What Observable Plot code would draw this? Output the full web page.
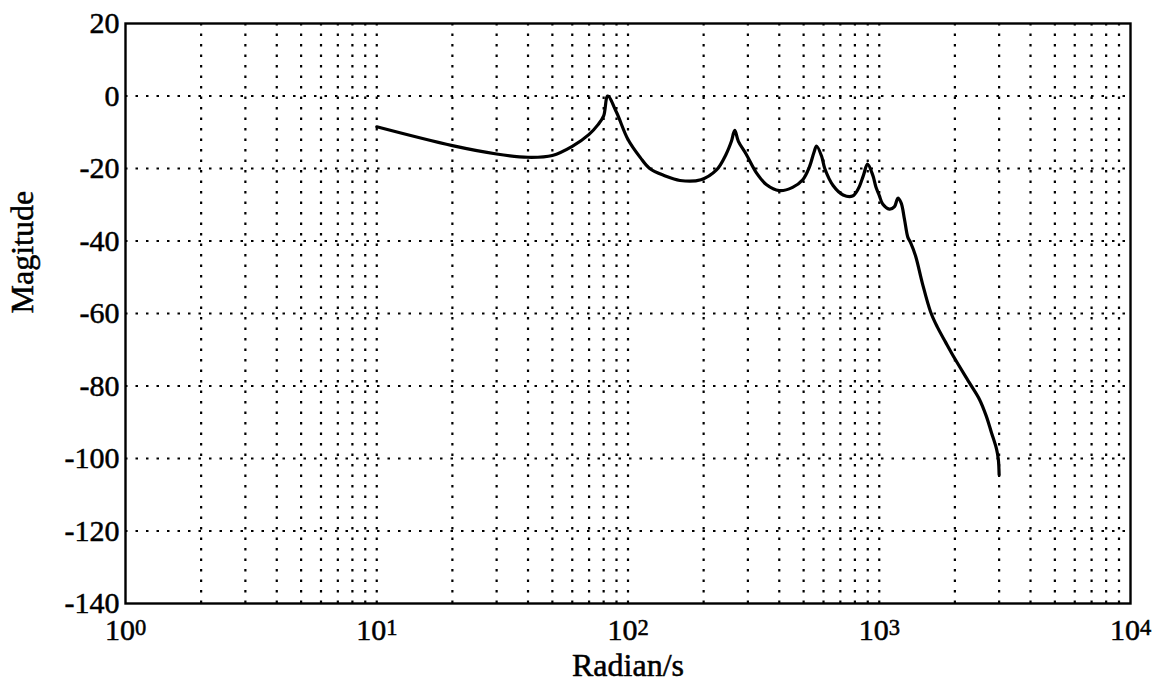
<!DOCTYPE html>
<html>
<head>
<meta charset="utf-8">
<script src="https://cdn.jsdelivr.net/npm/d3@7"></script>
<script src="https://cdn.jsdelivr.net/npm/@observablehq/plot@0.6"></script>
<style>
  html, body { margin: 0; padding: 0; background: #fff; }
  #chart svg { display: block; }
  #chart svg text { stroke: black; stroke-width: 0.5px; }
</style>
</head>
<body>
<div id="chart"></div>
<script>
// Frequency (rad/s) and magnitude (dB)
const freq = [10, 20, 30, 40, 50, 60, 70, 76, 80, 83, 90, 100, 112, 122, 140, 161, 195, 225, 246, 258, 266, 275, 295, 325, 355, 400, 452, 496, 527, 550, 563, 590, 607, 655, 718, 783, 825, 865, 898, 943, 970, 1000, 1032, 1097, 1150, 1186, 1222, 1260, 1300, 1334, 1396, 1484, 1600, 1702, 1836, 2000, 2280, 2506, 2667, 2795, 2930, 2978, 3000];
const mag  = [-8.5, -13.7, -16, -16.9, -16.4, -13.9, -10.6, -7.9, -5.5, 0, -4.5, -12, -17, -20, -22, -23.3, -23.1, -20.4, -16, -12.5, -9.5, -12.5, -16, -21.3, -24.4, -26.1, -25.2, -23.1, -19.6, -15.5, -13.8, -16.7, -20, -24.7, -27.3, -27.6, -25.6, -21.9, -18.8, -21.9, -25.1, -27.4, -29.8, -31.2, -30.5, -28.2, -29.5, -34, -39, -40.5, -44.2, -51.6, -59.5, -63.7, -67.9, -72.5, -79, -83.7, -88.3, -92.8, -97.4, -100.2, -104.5];

const xTicks = [1, 10, 100, 1000, 10000];
const yTicks = [-140, -120, -100, -80, -60, -40, -20, 0, 20];
const decades = [1, 10, 100, 1000];
const multipliers = [1, 2, 3, 4, 5, 6, 7, 8, 9];
const gridX = decades.flatMap(d => multipliers.map(m => m * d)).filter(v => v > 1);
const gridY = [-120, -100, -80, -60, -40, -20, 0];

const xLabel = "Radian/s";
const yLabel = "Magitude";

const data = freq.map((f, i) => ({f, m: mag[i]}));

const font = "'Liberation Serif', 'Times New Roman', serif";
const dots = "2.5 8";

const chart = Plot.plot({
  width: 1153,
  height: 694,
  marginLeft: 125,
  marginRight: 23,
  marginTop: 23,
  marginBottom: 91,
  style: {fontFamily: font, fontSize: "30px", color: "black", background: "white", overflow: "visible"},
  x: {type: "log", domain: [1, 10000], ticks: xTicks, tickFormat: d => "10" + Math.round(Math.log10(d)), tickSize: 0, tickPadding: 15, label: null},
  y: {domain: [-140, 20], ticks: yTicks, tickFormat: d => String(d), tickSize: 0, tickPadding: 6, label: null},
  marks: [
    Plot.ruleX(gridX, {stroke: "black", strokeWidth: 2.2, strokeDasharray: dots}),
    Plot.ruleY(gridY, {stroke: "black", strokeWidth: 2.2, strokeDasharray: dots}),
    Plot.frame({stroke: "black", strokeWidth: 2.4}),
    Plot.line(data, {x: "f", y: "m", stroke: "black", strokeWidth: 3.2, curve: "catmull-rom"}),
    Plot.text([yLabel], {frameAnchor: "left", dx: -103, rotate: -90, fontSize: 32, fill: "black"}),
    Plot.text([xLabel], {frameAnchor: "bottom", dy: 72, fontSize: 32, fill: "black"})
  ]
});

document.getElementById("chart").appendChild(chart);

// Render exponent digits of x tick labels as raised, smaller text
chart.querySelectorAll("text").forEach(t => {
  const m = /^10([0-4])$/.exec(t.textContent);
  if (m && t.children.length === 0) {
    t.textContent = "10";
    const ts = document.createElementNS("http://www.w3.org/2000/svg", "tspan");
    ts.setAttribute("dy", "-0.2em");
    ts.setAttribute("font-size", "75%");
    ts.textContent = m[1];
    t.appendChild(ts);
  }
});
</script>
</body>
</html>
